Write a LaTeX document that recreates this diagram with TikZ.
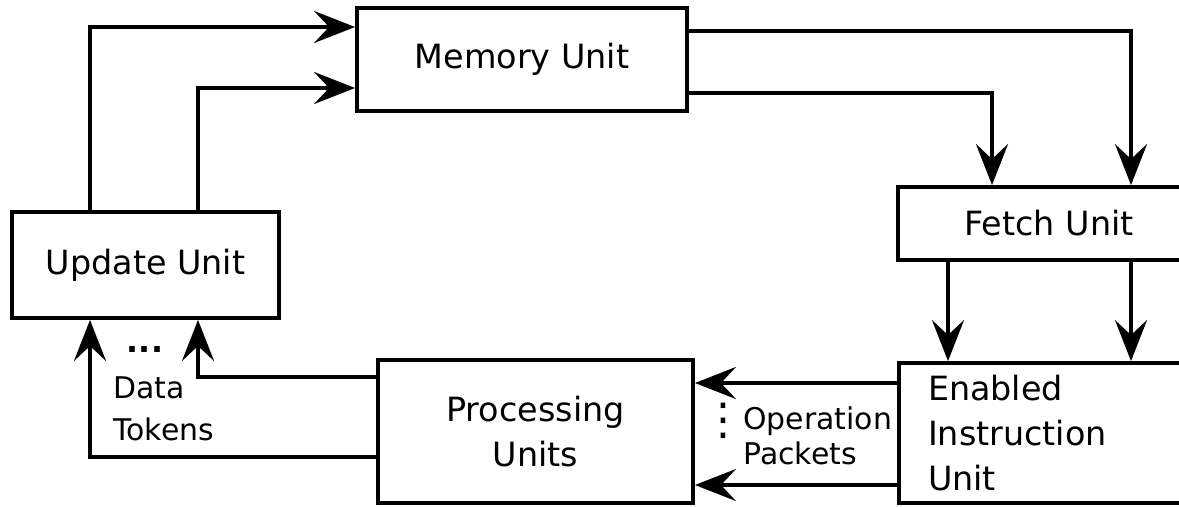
\documentclass[tikz,border=0pt]{standalone}
\usepackage{fontspec}
\setmainfont{DejaVu Sans}
\usetikzlibrary{arrows.meta,positioning}

\begin{document}
\begin{tikzpicture}[
      unitbox/.style={draw, line width=2.2pt, inner sep=0pt, align=center, font=\fontsize{19}{25.5}\selectfont},
      lbl/.style={inner sep=0pt, align=left, font=\fontsize{17}{23.9}\selectfont},
      arr/.style={-{Stealth[length=0.82cm, width=0.64cm, inset=0.3cm]}, line width=2.2pt}
  ]
    \useasboundingbox (0,0) rectangle (23.58,10.12);

    % units
    \node[unitbox, minimum width=6.60cm, minimum height=2.06cm] (mem) at (10.44,8.93) {Memory Unit};
    \node[unitbox, minimum width=6.04cm, minimum height=1.46cm] (fet) at (20.98,5.65) {Fetch Unit};
    \node[unitbox, minimum width=5.34cm, minimum height=2.12cm] (upd) at (2.91,4.82) {Update Unit};
    \node[unitbox, minimum width=6.30cm, minimum height=2.86cm] (proc) at (10.71,1.49) {Processing\\Units};
    \node[unitbox, align=left, text width=4.86cm, inner xsep=0.58cm, minimum height=2.80cm] (eiu) at (20.99,1.46) {Enabled\\Instruction\\Unit};

    % Update -> Memory
    \draw[arr] (1.80,0 |- upd.north) |- (mem.west |- 0,9.58);
    \draw[arr] (3.96,0 |- upd.north) |- (mem.west |- 0,8.36);

    % Memory -> Fetch
    \draw[arr] (mem.east |- 0,9.50) -| (22.62,0 |- fet.north);
    \draw[arr] (mem.east |- 0,8.26) -| (19.84,0 |- fet.north);

    % Fetch -> Enabled Instruction
    \draw[arr] (18.96,0 |- fet.south) -- (18.96,0 |- eiu.north);
    \draw[arr] (22.62,0 |- fet.south) -- (22.62,0 |- eiu.north);

    % Enabled Instruction -> Processing
    \draw[arr] (eiu.west |- 0,2.46) -- (proc.east |- 0,2.46);
    \draw[arr] (eiu.west |- 0,0.42) -- (proc.east |- 0,0.42);

    % Processing -> Update
    \draw[arr] (proc.west |- 0,2.58) -| (3.96,0 |- upd.south);
    \draw[arr] (proc.west |- 0,0.98) -| (1.80,0 |- upd.south);

    % labels
    \node[lbl, font=\fontsize{18}{20}\bfseries] (tdots) at (2.90,3.12) {...};
    \node[lbl, anchor=west] (tok) at (2.26,1.94) {Data\\Tokens};
    \node[lbl, font=\fontsize{25}{27}\selectfont] (pdots) at (14.46,1.70) {⋮};
    \node[lbl, anchor=west, font=\fontsize{17}{19.9}\selectfont] (pkt) at (14.86,1.41) {Operation\\Packets};
  \end{tikzpicture}
\end{document}
